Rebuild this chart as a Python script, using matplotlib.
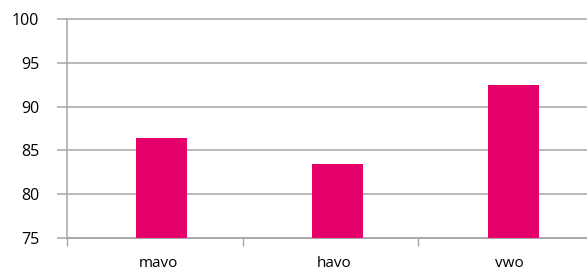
import numpy as np
import matplotlib
matplotlib.use("Agg")
import matplotlib.pyplot as plt

categories = ["mavo", "havo", "vwo"]
values = [86.4, 83.5, 92.5]
y_ticks = [75, 80, 85, 90, 95, 100]

plt.rcParams['font.family'] = ['Open Sans', 'DejaVu Sans']

grey = '#a6a6a6'
fig = plt.figure(figsize=(5.87, 2.76), dpi=100)
ax = fig.add_axes([67/587, 38/276, 1 - 67/587, (238 - 19)/276])

x = np.arange(len(categories))
ax.bar(x + 0.01, np.array(values) - 75, bottom=75, width=0.29, color='#e5006a', zorder=3)

ax.set_ylim(75, 100)
ax.set_xlim(-0.53, 2.43)
ax.set_yticks(y_ticks)
ax.set_yticklabels([str(v) for v in y_ticks], fontsize=11.5, color='#000000')
for v in y_ticks:
    ax.axhline(v, color=grey, lw=1.1, zorder=1, clip_on=False)

# category boundary ticks
ax.set_xticks(list(x[:-1] + 0.47) + [-0.53])
ax.set_xticklabels([])
ax.tick_params(axis='x', length=6, color=grey, width=1.0)
ax.tick_params(axis='y', length=7, color=grey, width=1.1, pad=13)
for i, c in enumerate(categories):
    ax.text(x[i] - 0.01, -0.08, c, transform=ax.get_xaxis_transform(),
            ha='center', va='top', fontsize=11, color='#000000')

for s in ['top', 'right']:
    ax.spines[s].set_visible(False)
ax.spines['left'].set_color(grey)
ax.spines['left'].set_linewidth(1.1)
ax.spines['bottom'].set_color(grey)
ax.spines['bottom'].set_linewidth(1.1)

fig.savefig('out.png', dpi=100)
